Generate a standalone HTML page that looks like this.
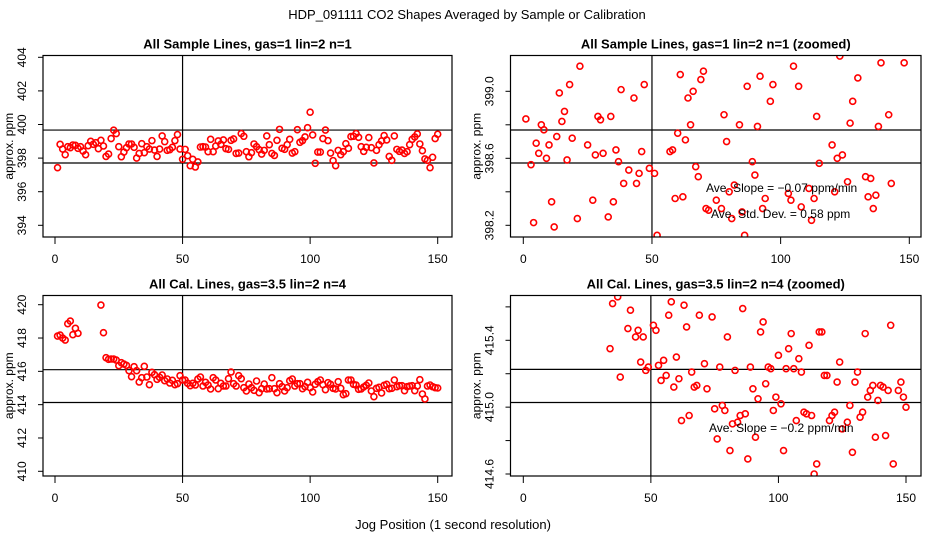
<!DOCTYPE html>
<html><head><meta charset="utf-8"><style>
html,body{margin:0;padding:0;background:#fff;}
svg{display:block;font-family:"Liberation Sans",sans-serif;}
</style></head><body>
<svg id="chart" width="936" height="540" viewBox="0 0 936 540" xmlns="http://www.w3.org/2000/svg">
<text x="467" y="19" font-size="13" text-anchor="middle">HDP_091111  CO2 Shapes Averaged by Sample or Calibration</text>
<text x="453" y="529" font-size="13" text-anchor="middle">Jog Position (1 second resolution)</text>
</svg>
<script>
// Panel 1: all sample lines (index 1..150)
const p1Values = [397.43,398.82,398.54,398.2,398.68,398.62,398.78,398.76,398.58,398.68,398.42,398.2,398.74,399.0,398.82,398.92,398.56,399.06,398.72,398.1,398.24,399.16,399.66,399.46,398.68,398.08,398.36,398.62,398.84,398.84,398.64,398.0,398.28,398.86,398.32,398.68,398.54,399.04,398.48,398.1,398.54,399.32,398.98,398.46,398.5,398.64,399.04,399.4,398.54,397.93,398.52,398.14,397.55,397.93,397.47,397.77,398.66,398.68,398.66,398.38,399.12,398.38,398.72,399.02,398.82,399.08,398.56,398.52,399.06,399.14,398.28,398.3,399.46,399.3,398.38,398.08,398.32,398.84,398.68,398.5,398.24,398.46,399.32,398.8,398.28,398.16,399.06,399.71,398.58,398.52,398.8,399.12,398.3,398.38,399.69,398.94,399.04,399.26,399.81,400.73,399.38,397.69,398.36,398.36,399.16,399.67,399.04,398.3,397.85,397.55,398.46,398.2,398.38,398.86,398.58,399.28,399.3,399.46,399.24,398.68,398.4,398.64,399.22,398.62,397.71,398.46,398.8,399.02,399.34,399.08,398.1,397.87,399.32,398.52,398.4,398.48,398.28,398.38,398.8,399.12,399.26,399.44,398.84,398.44,397.95,397.87,397.43,398.05,399.16,399.42];
const p1Lines = [399.67, 397.71];
// Panel 2: zoomed sample lines
const p2Index = [1,3,4,5,6,7,8,9,10,11,12,13,14,15,16,17,18,19,21,22,25,27,28,29,30,31,33,34,35,36,37,38,39,41,43,44,45,46,47,49,51,52,57,58,59,60,61,62,63,64,65,66,67,68,69,70,71,72,75,77,78,79,80,81,82,84,85,86,87,89,90,91,92,93,94,96,97,103,104,105,107,108,111,112,113,114,115,120,121,122,123,124,126,127,128,130,133,134,135,136,137,138,139,142,143,148];
const p2Values = [398.835,398.562,398.216,398.69,398.63,398.80,398.77,398.60,398.68,398.34,398.19,398.73,398.99,398.82,398.88,398.59,399.04,398.72,398.24,399.15,398.68,398.35,398.62,398.85,398.83,398.63,398.25,398.85,398.34,398.65,398.58,399.01,398.45,398.53,398.96,398.45,398.51,398.64,399.04,398.54,398.51,398.14,398.64,398.65,398.36,398.75,399.10,398.37,398.71,398.96,398.80,399.0,398.55,398.49,399.07,399.12,398.30,398.29,398.35,398.30,398.86,398.70,398.40,398.24,398.44,398.80,398.28,398.14,399.03,398.58,398.50,398.79,399.09,398.30,398.36,398.94,399.04,398.39,398.35,399.15,399.03,398.31,398.42,398.23,398.36,398.85,398.57,398.68,398.40,398.60,399.21,398.62,398.46,398.81,398.94,399.08,398.49,398.37,398.48,398.30,398.38,398.79,399.17,398.86,398.45,399.17];
const p2Lines = [398.769, 398.572];
// Panel 3: all calibration lines (null = no point)
const p3Values = [418.12,418.18,418.0,417.88,418.86,419.02,418.2,418.58,418.28,null,null,null,null,null,null,null,null,419.98,418.32,416.82,416.72,416.74,416.74,416.68,416.34,416.52,416.44,416.36,416.04,415.68,416.28,416.04,415.36,415.62,416.3,415.66,415.2,415.94,415.8,415.52,415.64,415.78,415.44,415.54,415.3,415.46,415.2,415.26,415.74,415.48,415.48,415.28,415.14,415.28,415.18,415.54,415.66,415.12,415.34,415.18,414.94,415.62,415.48,414.96,415.28,415.12,415.12,415.56,415.96,415.26,415.12,415.74,415.56,415.02,414.82,415.24,415.02,414.86,415.42,414.72,414.96,415.24,414.94,414.96,415.62,414.96,414.72,415.26,415.08,414.82,415.02,415.44,415.54,415.12,415.26,415.26,414.96,415.08,415.34,415.02,414.76,415.22,415.38,415.48,415.2,414.9,415.32,415.22,414.98,414.94,415.38,414.98,414.6,414.66,415.48,415.48,415.22,415.18,414.92,414.94,415.06,415.16,415.3,414.82,414.48,414.98,415.04,414.7,415.16,415.22,414.96,414.98,415.48,415.08,415.14,415.14,414.84,415.08,415.12,415.14,414.84,415.12,415.5,414.64,414.34,415.12,415.18,415.08,415.02,415.0];
const p3Lines = [416.1, 414.13];
// Panel 4: zoomed calibration lines
const p4Index = [34,35,37,38,41,42,44,45,46,47,48,49,51,52,53,54,55,56,57,58,59,60,61,62,63,64,65,66,67,68,69,71,72,74,75,76,77,78,79,80,81,82,83,84,85,86,87,88,89,90,91,92,93,94,95,96,97,98,99,100,101,102,103,104,105,106,107,108,109,110,111,112,113,114,115,116,117,118,119,120,121,122,123,124,125,127,128,129,130,131,132,133,134,135,136,137,138,139,140,141,142,143,144,145,147,148,149,150];
const p4Values = [415.35,415.62,415.66,415.18,415.47,415.58,415.42,415.46,415.27,415.42,415.22,415.24,415.49,415.46,415.25,415.16,415.28,415.19,415.55,415.63,415.12,415.30,415.17,414.92,415.61,415.48,414.95,415.21,415.12,415.13,415.55,415.26,415.11,415.54,414.99,414.81,415.24,415.01,414.98,415.42,414.74,414.90,415.22,414.91,414.95,415.59,414.96,414.69,415.24,415.11,414.82,415.05,415.45,415.51,415.14,415.24,415.23,414.98,415.06,415.31,415.02,414.74,415.23,415.35,415.44,415.23,414.92,415.29,415.21,414.97,414.96,415.37,414.95,414.60,414.66,415.45,415.45,415.19,415.19,414.92,414.95,414.97,415.15,415.27,414.87,414.91,415.01,414.73,415.15,415.21,414.94,414.97,415.44,415.06,415.10,415.13,414.82,415.04,415.13,415.12,414.83,415.10,415.49,414.66,415.10,415.15,415.06,415.00];
const p4Lines = [415.226, 415.028];

const xTicks = [0,50,100,150];
const p1Ticks = [394,396,398,400,402,404];
const p2Ticks = [398.2,398.4,398.6,398.8,399.0];
const p2Labels = ["398.2","","398.6","","399.0"];
const p3Ticks = [410,412,414,416,418,420];
const p4Ticks = [414.6,414.8,415.0,415.2,415.4,415.6];
const p4Labels = ["414.6","","415.0","","415.4",""];

const NS = "http://www.w3.org/2000/svg";
const svg = document.getElementById('chart');
function mk(tag, attrs, parent){
  const e = document.createElementNS(NS, tag);
  for (const k in attrs) e.setAttribute(k, attrs[k]);
  (parent||svg).appendChild(e);
  return e;
}

function panel(cfg){
  const g = mk('g', {});
  
  
  const L=cfg.left, R=cfg.right, T=cfg.top, B=cfg.bottom;
  const xs = v => cfg.x0 + (v - 0) * (cfg.x150 - cfg.x0) / 150;
  const ys = v => cfg.yA + (v - cfg.vA) * (cfg.yB - cfg.yA) / (cfg.vB - cfg.vA);
  const clipId = cfg.name + '-clip';
  const defs = mk('defs', {}, g);
  const cp = mk('clipPath', {id: clipId}, defs);
  mk('rect', {x:L, y:T, width:R-L, height:B-T}, cp);

  const t = mk('text', {x:(L+R)/2, y:T-7, 'font-size':13, 'font-weight':'bold', 'text-anchor':'middle'}, g);
  t.textContent = cfg.title;
  
  

  // x axis
  xTicks.forEach(v => {
    const x = xs(v);
    mk('line', {x1:x, y1:B, x2:x, y2:B+7, stroke:'#000', 'stroke-width':1}, g);
    const tl = mk('text', {x:x, y:B+26, 'font-size':12, 'text-anchor':'middle'}, g);
    tl.textContent = v;
    
    
  });
  // y axis
  cfg.yTicks.forEach((v,i) => {
    const y = ys(v);
    mk('line', {x1:L-5, y1:y, x2:L, y2:y, stroke:'#000', 'stroke-width':1}, g);
    const lab = cfg.yLabels ? cfg.yLabels[i] : String(v);
    if (lab) {
      const tl = mk('text', {x:0, y:0, 'font-size':12, 'text-anchor':'middle', transform:'translate('+(L-17)+','+y+') rotate(-90)'}, g);
      tl.textContent = lab;
      
      
    }
  });
  const yt = mk('text', {x:0, y:0, 'font-size':12, 'text-anchor':'middle', transform:'translate('+(L-30)+','+((T+B)/2)+') rotate(-90)'}, g);
  yt.textContent = 'approx. ppm';
  
  

  // reference lines
  const pg = mk('g', {'clip-path':'url(#'+clipId+')'}, g);
  cfg.hLines.forEach(v => {
    const hl = mk('line', {x1:L, x2:R, y1:ys(v), y2:ys(v), stroke:'#000', 'stroke-width':1.2}, pg);
    
    
  });
  const vl = mk('line', {x1:xs(50), x2:xs(50), y1:T, y2:B, stroke:'#000', 'stroke-width':1.2}, pg);
  
  

  // points
  cfg.vals.forEach((v,i) => {
    if (v === null) return;
    const xi = cfg.idx ? cfg.idx[i] : i+1;
    const c = mk('circle', {cx:xs(xi), cy:ys(v), r:3, fill:'none', stroke:'#ff0000', 'stroke-width':1.6}, pg);
    
    
  });

  (cfg.notes||[]).forEach(n => {
    const tx = mk('text', {x:n.x, y:n.y, 'font-size':12}, g);
    tx.textContent = n.t;
    
    
  });

  mk('rect', {x:L, y:T, width:R-L, height:B-T, fill:'none', stroke:'#000', 'stroke-width':1.2}, g);
}

panel({name:'panel-sample-lines', title:'All Sample Lines, gas=1 lin=2 n=1',
  left:43, right:452, top:55.5, bottom:237, x0:55, x150:437.7,
  vA:404, yA:57.3, vB:394, yB:225.3, yTicks:p1Ticks, vals:p1Values, hLines:p1Lines});
panel({name:'panel-sample-lines-zoomed', title:'All Sample Lines, gas=1 lin=2 n=1 (zoomed)',
  left:510.5, right:921, top:55.5, bottom:237, x0:523.3, x150:909.3,
  vA:399.0, yA:91.3, vB:398.2, yB:225.3, yTicks:p2Ticks, yLabels:p2Labels,
  idx:p2Index, vals:p2Values, hLines:p2Lines,
  notes:[{x:706, y:192, t:'Ave. Slope =  \u22120.07  ppm/min'},{x:711, y:218, t:'Ave. Std. Dev. =  0.58  ppm'}]});
panel({name:'panel-cal-lines', title:'All Cal. Lines, gas=3.5 lin=2 n=4',
  left:43, right:452, top:295.5, bottom:476, x0:55, x150:437.7,
  vA:420, yA:304.7, vB:410, yB:471.3, yTicks:p3Ticks, vals:p3Values, hLines:p3Lines});
panel({name:'panel-cal-lines-zoomed', title:'All Cal. Lines, gas=3.5 lin=2 n=4 (zoomed)',
  left:510.5, right:921, top:295.5, bottom:476, x0:523.3, x150:906,
  vA:415.4, yA:340.3, vB:414.6, yB:474, yTicks:p4Ticks, yLabels:p4Labels,
  idx:p4Index, vals:p4Values, hLines:p4Lines,
  notes:[{x:709, y:432, t:'Ave. Slope =  \u22120.2  ppm/min'}]});
</script>
</body></html>
